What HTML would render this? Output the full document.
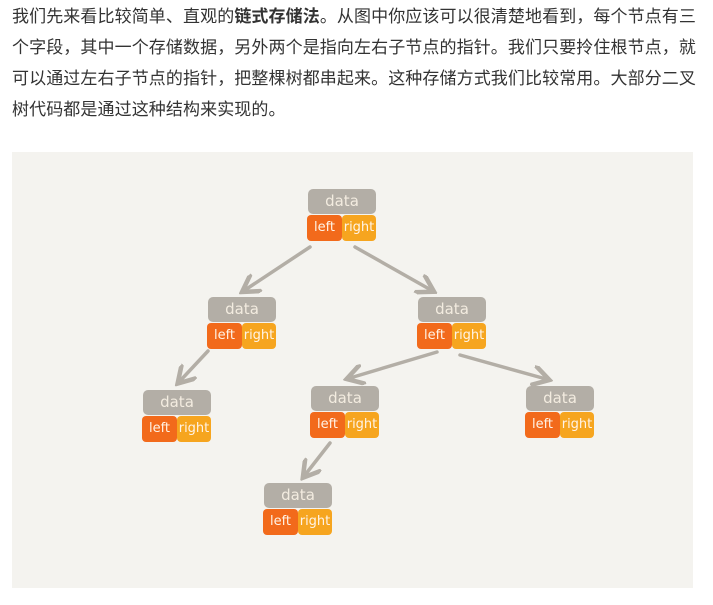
<!DOCTYPE html>
<html><head><meta charset="utf-8"><style>
body{margin:0;width:713px;height:605px;background:#fff;overflow:hidden}
.t{position:absolute;left:12px;top:1px;font:17px/31px "Liberation Sans","Noto Sans CJK SC",sans-serif;color:#333;letter-spacing:0.1px;white-space:nowrap}
.bg{position:absolute;left:12px;top:152px;width:681px;height:436px;background:#f4f3ef}
.n{position:absolute;width:68px;height:52px}
.d{position:absolute;left:0;top:0;width:68px;height:25px;background:#b3aea6;border-radius:5px;color:#f3ece0;font:15px/24px "DejaVu Sans",sans-serif;text-align:center}
.l{position:absolute;left:-1px;top:26px;width:35px;height:26px;background:#f26a1b;border-radius:4px;color:#fde;font:13px/26px "DejaVu Sans",sans-serif;text-align:center;color:#fff3e6}
.r{position:absolute;left:34px;top:26px;width:34px;height:26px;background:#f6a51f;border-radius:4px;font:13px/26px "DejaVu Sans",sans-serif;text-align:center;color:#fff3e6}
</style></head><body>
<div class="t">我们先来看比较简单、直观的<b>链式存储法</b>。从图中你应该可以很清楚地看到，每个节点有三<br>个字段，其中一个存储数据，另外两个是指向左右子节点的指针。我们只要拎住根节点，就<br>可以通过左右子节点的指针，把整棵树都串起来。这种存储方式我们比较常用。大部分二叉<br>树代码都是通过这种结构来实现的。</div>
<div class="bg"></div>
<svg style="position:absolute;left:0;top:0" width="713" height="605">
<defs><marker id="a" markerWidth="6" markerHeight="6" refX="4" refY="3" orient="auto"><path d="M0,0 L5,3 L0,6" fill="none" stroke="#b3aea6" stroke-width="1.3"/></marker></defs>
<g stroke="#b3aea6" stroke-width="3.5" fill="none" stroke-linecap="round" marker-end="url(#a)">
<line x1="310" y1="247" x2="245" y2="290"/>
<line x1="355" y1="247" x2="431" y2="290"/>
<line x1="208" y1="351" x2="180" y2="381"/>
<line x1="437" y1="352" x2="350" y2="378"/>
<line x1="460" y1="355" x2="546" y2="379"/>
<line x1="330" y1="443" x2="305" y2="475"/>
</g></svg>
<div class="n" style="left:308px;top:189px"><div class="d">data</div><div class="l">left</div><div class="r">right</div></div>
<div class="n" style="left:208px;top:297px"><div class="d">data</div><div class="l">left</div><div class="r">right</div></div>
<div class="n" style="left:418px;top:297px"><div class="d">data</div><div class="l">left</div><div class="r">right</div></div>
<div class="n" style="left:143px;top:390px"><div class="d">data</div><div class="l">left</div><div class="r">right</div></div>
<div class="n" style="left:311px;top:386px"><div class="d">data</div><div class="l">left</div><div class="r">right</div></div>
<div class="n" style="left:526px;top:386px"><div class="d">data</div><div class="l">left</div><div class="r">right</div></div>
<div class="n" style="left:264px;top:483px"><div class="d">data</div><div class="l">left</div><div class="r">right</div></div>
</body></html>
